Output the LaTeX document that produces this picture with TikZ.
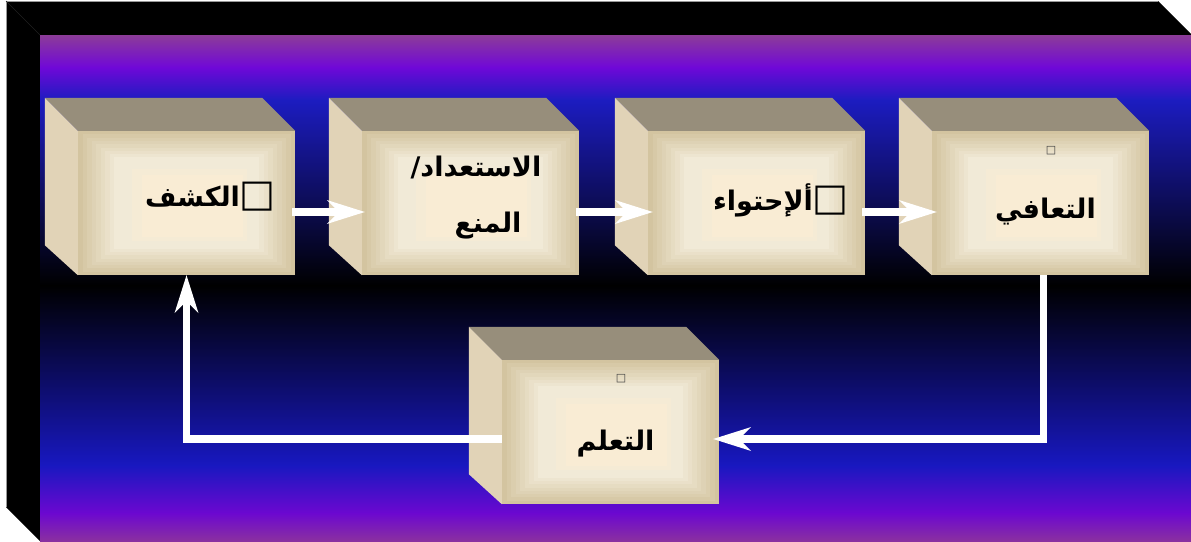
\documentclass[tikz,border=0pt]{standalone}
\usepackage{fontspec}
\usetikzlibrary{arrows.meta,calc}
\TeXXeTstate=1
\newfontfamily\arabicfont[Script=Arabic]{DejaVu Sans}
\newfontfamily\symfont{DejaVu Sans}
\newcommand\nbox{{\symfont\mdseries\fontsize{38}{38}\selectfont □}}
\definecolor{topface}{HTML}{978E7B}
\definecolor{leftface}{HTML}{E1D3B7}
\definecolor{frontedge}{HTML}{D3C4A0}
\definecolor{frontlight}{HTML}{F1EAD7}
\definecolor{frontwarm}{HTML}{F9ECD4}
\definecolor{bgA}{HTML}{8C3C98}
\definecolor{bgB}{HTML}{7008D8}
\definecolor{bgC}{HTML}{1C1CC0}
\definecolor{bgD}{HTML}{000000}
\definecolor{bgE}{HTML}{1818C0}
\definecolor{bgF}{HTML}{6C08D0}
\definecolor{bgG}{HTML}{8A30A0}
\begin{document}
\begin{tikzpicture}[x=1pt,y=-1pt,
  cube/.style={rectangle, inner sep=0pt, minimum width=217pt, minimum height=144pt,
    path picture={
      \foreach \i in {0,...,8}{
        \pgfmathsetmacro\p{\i*100/8}
        \pgfmathsetmacro\dx{4.5*\i}
        \pgfmathsetmacro\dy{3.3*\i}
        \fill[frontlight!\p!frontedge]
          ([xshift=\dx pt,yshift=\dy pt]path picture bounding box.south west) rectangle
          ([xshift=-\dx pt,yshift=-\dy pt]path picture bounding box.north east);
      }
      \fill[frontwarm!50!frontlight]
          ([xshift=54pt,yshift=34pt]path picture bounding box.south west) rectangle
          ([xshift=-48pt,yshift=-38pt]path picture bounding box.north east);
      \fill[frontwarm]
          ([xshift=64pt,yshift=38pt]path picture bounding box.south west) rectangle
          ([xshift=-52pt,yshift=-44pt]path picture bounding box.north east);
    }},
  topf/.style={fill=topface},
  leftf/.style={fill=leftface},
  flow/.style={draw=white, line width=7.5pt, line join=miter,
    -{Stealth[length=38pt,width=24pt,inset=12pt,line width=0pt]}},
  lbl/.style={font=\arabicfont\bfseries\fontsize{27}{30}\selectfont, inner sep=0pt, anchor=base, text=black},
  tiny/.style={font=\symfont\fontsize{11}{11}\selectfont, inner sep=0pt, text=black!75}
]
\fill[white] (0,0) rectangle (1191,541);
\useasboundingbox (0,0) rectangle (1191,541);
% frame faces
\fill[black] (6,1) -- (1158,1) -- (1191,34) -- (1191,35) -- (40,35) -- cycle;
\fill[black] (6,1) -- (40,35) -- (40,541) -- (6,507) -- cycle;
\draw[gray!80, line width=1pt] (6,507) -- (6,1) -- (1158,1);
\draw[black!80!gray, line width=0.6pt] (6,1) -- (40,35);
% front face gradient
\shade[top color=bgA, bottom color=bgB] (40,35) rectangle (1191,67.5);
\shade[top color=bgB, bottom color=bgC] (40,67) rectangle (1191,100.5);
\shade[top color=bgC, bottom color=bgD] (40,100) rectangle (1191,285.5);
\shade[top color=bgD, bottom color=bgE] (40,285) rectangle (1191,465.5);
\shade[top color=bgE, bottom color=bgF] (40,465) rectangle (1191,513.5);
\shade[top color=bgF, bottom color=bgG] (40,513) rectangle (1191,541);
% cubes
\node[cube] (b1) at (186.5,203) {};
\node[cube] (b2) at (470.5,203) {};
\node[cube] (b3) at (756.5,203) {};
\node[cube] (b4) at (1040.5,203) {};
\node[cube] (b5) at (610.5,432) {};
\foreach \b in {b1,b2,b3,b4,b5}{
  \fill[topf] (\b.north west) -- ([xshift=-33pt,yshift=33pt]\b.north west)
     -- ([xshift=-33pt,yshift=33pt]\b.north east) -- (\b.north east) -- cycle;
  \fill[leftf] (\b.north west) -- ([xshift=-33pt,yshift=33pt]\b.north west)
     -- ([xshift=-33pt,yshift=30pt]\b.south west) -- (\b.south west) -- cycle;
}
% labels
\node[lbl] (t1) at (210.5,206) {\beginR\nbox الكشف\endR};
\node[lbl] (t2a) at (476,176) {\beginR الاستعداد/\endR};
\node[lbl] (t2b) at (488,232) {\beginR المنع\endR};
\node[lbl] (t3) at (781,210) {\beginR\nbox ألإحتواء\endR};
\node[lbl] (t4) at (1045.5,218) {\beginR التعافي\endR};
\node[lbl] (t5) at (615.5,450) {\beginR التعلم\endR};
\node[tiny] (s4) at (1051,151) {□};
\node[tiny] (s5) at (621,379) {□};
% connectors
\draw[flow] ([xshift=-3pt,yshift=-9pt]b1.east) -- ([xshift=3pt,yshift=-9pt]b2.west);
\draw[flow] ([xshift=-3pt,yshift=-9pt]b2.east) -- ([xshift=5pt,yshift=-9pt]b3.west);
\draw[flow] ([xshift=-3pt,yshift=-9pt]b3.east) -- ([xshift=5pt,yshift=-9pt]b4.west);
\draw[flow] ([xshift=3pt]b4.south) |- ([xshift=-6pt,yshift=-7pt]b5.east);
\draw[flow] ([yshift=-7pt]b5.west) -| (b1.south);
\end{tikzpicture}
\end{document}
